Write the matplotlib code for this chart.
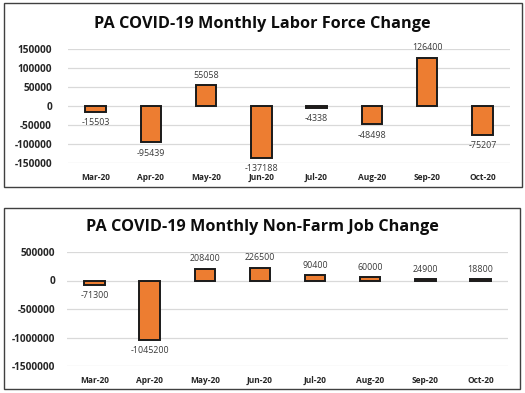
import matplotlib.pyplot as plt
from matplotlib.patches import Rectangle

months = ['Mar-20', 'Apr-20', 'May-20', 'Jun-20', 'Jul-20', 'Aug-20', 'Sep-20', 'Oct-20']
labor_change = [-15503, -95439, 55058, -137188, -4338, -48498, 126400, -75207]
job_change = [-71300, -1045200, 208400, 226500, 90400, 60000, 24900, 18800]

labor_ticks = [-150000, -100000, -50000, 0, 50000, 100000, 150000]
job_ticks = [-1500000, -1000000, -500000, 0, 500000]

plt.rcParams['font.family'] = ['Open Sans', 'DejaVu Sans']

W, H = 525, 393
fig = plt.figure(figsize=(W / 100, H / 100), dpi=100)


def px_box(x0, y0, x1, y1):
    # pixel coords (top-left origin) -> figure fraction rect
    return [x0 / W, 1 - y1 / H, (x1 - x0) / W, (y1 - y0) / H]


def draw_panel(ax, values, ticks, title, title_y, ypad):
    ax.bar(range(len(months)), values, width=0.37, color='#ED7D31',
           edgecolor='#1a1a1a', linewidth=1.4, zorder=3)
    ax.set_xlim(-0.5, len(months) - 0.5)
    ax.set_ylim(ticks[0], ticks[-1])
    ax.set_yticks(ticks)
    ax.set_yticklabels([str(t) for t in ticks], fontsize=7.3,
                       fontweight='bold', color='#262626')
    ax.set_xticks(range(len(months)))
    ax.set_xticklabels(months, fontsize=6, fontweight='bold', color='#262626')
    ax.tick_params(length=0)
    ax.tick_params(axis='y', pad=ypad)
    ax.tick_params(axis='x', pad=7)
    for s in ax.spines.values():
        s.set_visible(False)
    ax.grid(axis='y', color='#d9d9d9', linewidth=0.9, zorder=0)
    for i, v in enumerate(values):
        if v >= 0:
            ax.annotate(str(v), (i, v), xytext=(0, 4), textcoords='offset points',
                        ha='center', va='bottom', fontsize=6.4, color='#3a3a3a')
        else:
            ax.annotate(str(v), (i, v), xytext=(0, -4.5),
                        textcoords='offset points', ha='center', va='top',
                        fontsize=6.4, color='#3a3a3a')
    fig.text(0.5, 1 - title_y / H, title, ha='center', va='center',
             fontsize=11.7, fontweight='bold', color='#0d0d0d')


# panel frames
fig.patches.append(Rectangle((4 / W, 1 - 187 / H), 518 / W, 184 / H,
                             transform=fig.transFigure, fill=False,
                             edgecolor='#404040', linewidth=1.0))
fig.patches.append(Rectangle((4 / W, 1 - 389 / H), 516 / W, 181 / H,
                             transform=fig.transFigure, fill=False,
                             edgecolor='#404040', linewidth=1.0))

ax1 = fig.add_axes(px_box(68, 49, 510, 163))
draw_panel(ax1, labor_change, labor_ticks,
           'PA COVID-19 Monthly Labor Force Change', 24, 11.5)

ax2 = fig.add_axes(px_box(67, 252, 508, 366))
draw_panel(ax2, job_change, job_ticks,
           'PA COVID-19 Monthly Non-Farm Job Change', 227, 8.5)

fig.savefig('out.png', dpi=100)
